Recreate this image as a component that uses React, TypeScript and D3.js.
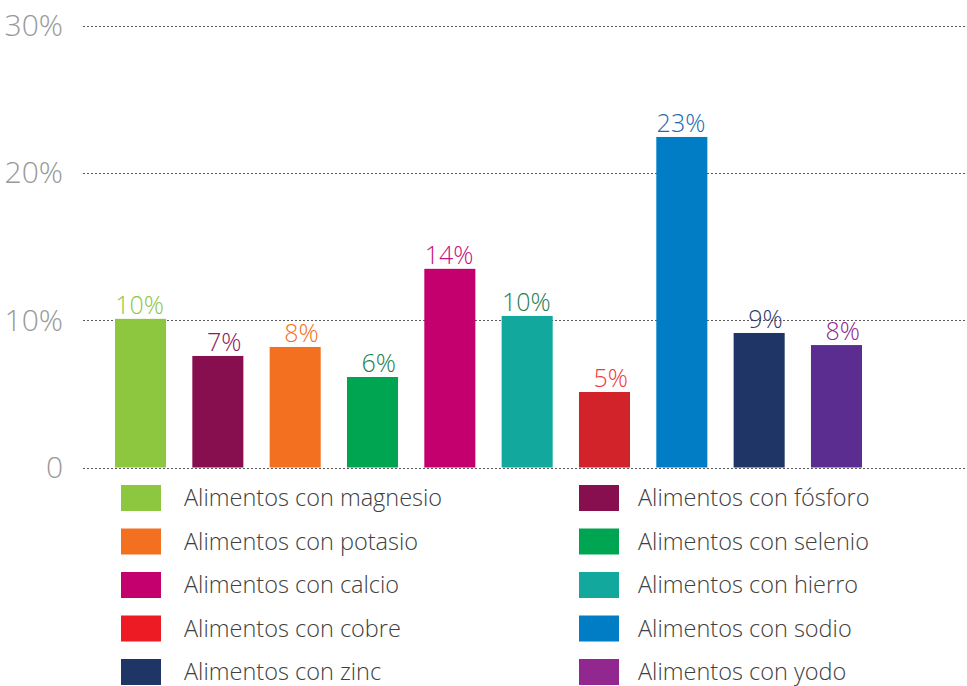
import { useEffect, useRef } from 'react';
import * as d3 from 'd3';

const categories = [
  'Alimentos con magnesio',
  'Alimentos con fósforo',
  'Alimentos con potasio',
  'Alimentos con selenio',
  'Alimentos con calcio',
  'Alimentos con hierro',
  'Alimentos con cobre',
  'Alimentos con sodio',
  'Alimentos con zinc',
  'Alimentos con yodo',
];

const values = [10.1, 7.58, 8.19, 6.15, 13.5, 10.3, 5.13, 22.46, 9.14, 8.32];
const valueLabels = ['10%', '7%', '8%', '6%', '14%', '10%', '5%', '23%', '9%', '8%'];

const barColors = ['#8dc63f', '#870e4f', '#f37021', '#00a551', '#c4006f', '#12a89d', '#d2232a', '#007dc5', '#1f3565', '#5c2d91'];
const legendColors = ['#8dc63f', '#870e4f', '#f37021', '#00a551', '#c4006f', '#12a89d', '#ed1c24', '#007dc5', '#1f3565', '#92278f'];
const labelColors = ['#8dc63f', '#8b1a5a', '#f37021', '#1e7f4f', '#c5137e', '#1e7f4f', '#ee3a3a', '#1e6bb0', '#2e3f6e', '#92278f'];

const yTicks = [0, 10, 20, 30];
const yTickLabels = ['0', '10%', '20%', '30%'];

const FONT = '"Open Sans", "Noto Sans", sans-serif';

export default function App() {
  const svgRef = useRef<SVGSVGElement>(null);

  useEffect(() => {
    if (!svgRef.current) return;
    const width = 967;
    const height = 686;

    const svg = d3.select(svgRef.current)
      .attr('width', width)
      .attr('height', height)
      .attr('viewBox', `0 0 ${width} ${height}`);
    svg.selectAll('*').remove();

    const x = d3.scaleBand<string>()
      .domain(categories)
      .range([115, 862])
      .paddingInner(0.34)
      .paddingOuter(0);

    const y = d3.scaleLinear()
      .domain([0, 30])
      .range([467.5, 26]);

    // grid lines
    svg.append('g')
      .selectAll('line')
      .data(yTicks)
      .join('line')
      .attr('x1', 83).attr('x2', width)
      .attr('y1', d => Math.round(y(d)) + 0.5).attr('y2', d => Math.round(y(d)) + 0.5)
      .style('stroke', '#5a5a5a')
      .style('stroke-width', 1)
      .style('stroke-dasharray', '2,2');

    // y tick labels
    svg.append('g')
      .selectAll('text')
      .data(yTicks)
      .join('text')
      .attr('x', 63)
      .attr('y', d => y(d))
      .attr('dy', '0.34em')
      .attr('text-anchor', 'end')
      .style('font-family', FONT)
      .style('font-weight', 300)
      .style('font-size', '30px')
      .style('fill', '#999999')
      .text((_, i) => yTickLabels[i]);

    // bars
    svg.append('g')
      .selectAll('rect')
      .data(values)
      .join('rect')
      .attr('x', (_, i) => x(categories[i])!)
      .attr('y', d => y(d))
      .attr('width', x.bandwidth())
      .attr('height', d => y(0) - y(d))
      .attr('fill', (_, i) => barColors[i]);

    // value labels
    svg.append('g')
      .selectAll('text')
      .data(values)
      .join('text')
      .attr('x', (_, i) => x(categories[i])! + x.bandwidth() - 2)
      .attr('y', d => y(d) - 5)
      .attr('text-anchor', 'end')
      .style('font-family', FONT)
      .style('font-weight', 300)
      .style('font-size', '25px')
      .style('fill', (_, i) => labelColors[i])
      .text((_, i) => valueLabels[i]);

    // legend, two columns row-major
    const colX = [121, 579];
    const textOffset = [63, 59];
    const rowY = d3.scaleLinear().domain([0, 4]).range([498, 672]);
    const legend = svg.append('g')
      .selectAll('g')
      .data(categories)
      .join('g')
      .attr('transform', (_, i) => `translate(${colX[i % 2]},${rowY(Math.floor(i / 2))})`);

    legend.append('rect')
      .attr('x', 0).attr('y', -13)
      .attr('width', 40).attr('height', 26)
      .attr('fill', (_, i) => legendColors[i]);

    legend.append('text')
      .attr('x', (_, i) => textOffset[i % 2])
      .attr('y', 0)
      .attr('dy', '0.35em')
      .style('font-family', FONT)
      .style('font-weight', 300)
      .style('font-size', '23.5px')
      .style('fill', '#404040')
      .text(d => d);
  }, []);

  return (
    <div style={{ position: 'absolute', left: 0, top: 0 }}>
      <svg ref={svgRef} style={{ display: 'block' }}></svg>
    </div>
  );
}
